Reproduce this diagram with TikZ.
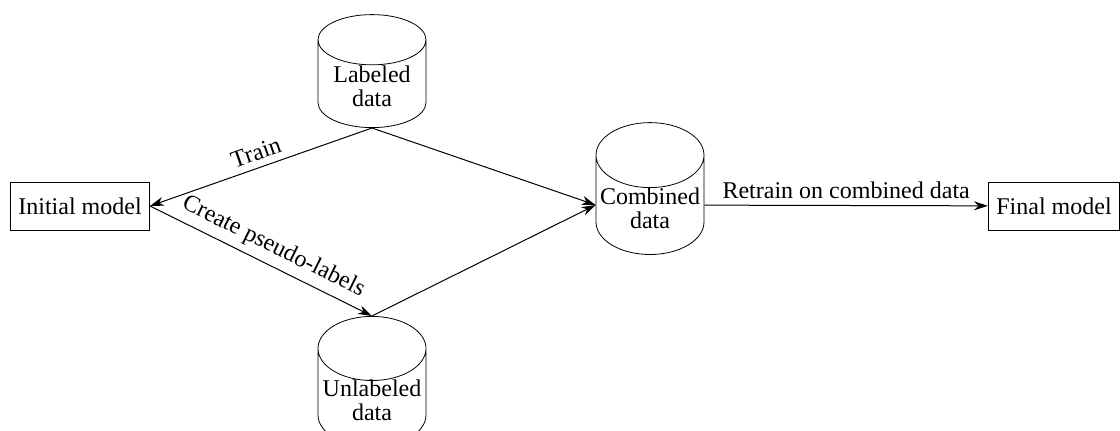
\documentclass[tikz,border=0pt]{standalone}
\usepackage{fontspec}
\setmainfont{Liberation Serif}
\usetikzlibrary{arrows.meta, positioning, shapes.geometric}

\newcommand{\baixo}[1]{\raisebox{-3pt}{#1}}

\begin{document}
\begin{tikzpicture}[
    x=0.5pt, y=-0.5pt,
    >={Stealth[length=7pt, width=4.5pt]},
    font=\rmfamily\fontsize{12}{14}\selectfont,
    modelo/.style={
        rectangle,
        draw,
        inner xsep=4pt,
        minimum height=24pt
    },
    dados/.style={
        cylinder,
        shape border rotate=90,
        aspect=0.65,
        draw,
        align=center,
        minimum width=54pt,
        minimum height=56.5pt,
        inner sep=0pt,
        text height=17pt,
        text depth=-13pt,
        font=\rmfamily\fontsize{12}{12}\selectfont
    },
    seta/.style={->, line width=0.5pt}
]
\useasboundingbox (0,0) rectangle (1120,430);

\node[modelo] (inicial) at (80,206) {Initial model};
\node[modelo] (final) at (1054,206) {Final model};

\node[dados, anchor=south] (rotulados) at (372,128) {\baixo{Labeled}\\\baixo{data}};
\node[dados] (combinados) at (650,205) {\baixo{Combined}\\\baixo{data}};
\node[dados, anchor=north] (naorotulados) at (372,316) {\baixo{Unlabeled}\\\baixo{data}};

\draw[seta] (rotulados.south) -- node[above, sloped, pos=0.5] {Train} (inicial.east);
\draw[seta] (inicial.east) -- node[above, sloped, pos=0.52] {Create pseudo-labels} (naorotulados.north);
\draw[seta] (rotulados.south) -- (combinados.west);
\draw[seta] (naorotulados.north) -- (combinados.west);
\draw[seta] (combinados) -- node[above] {Retrain on combined data} (final);

\end{tikzpicture}
\end{document}
